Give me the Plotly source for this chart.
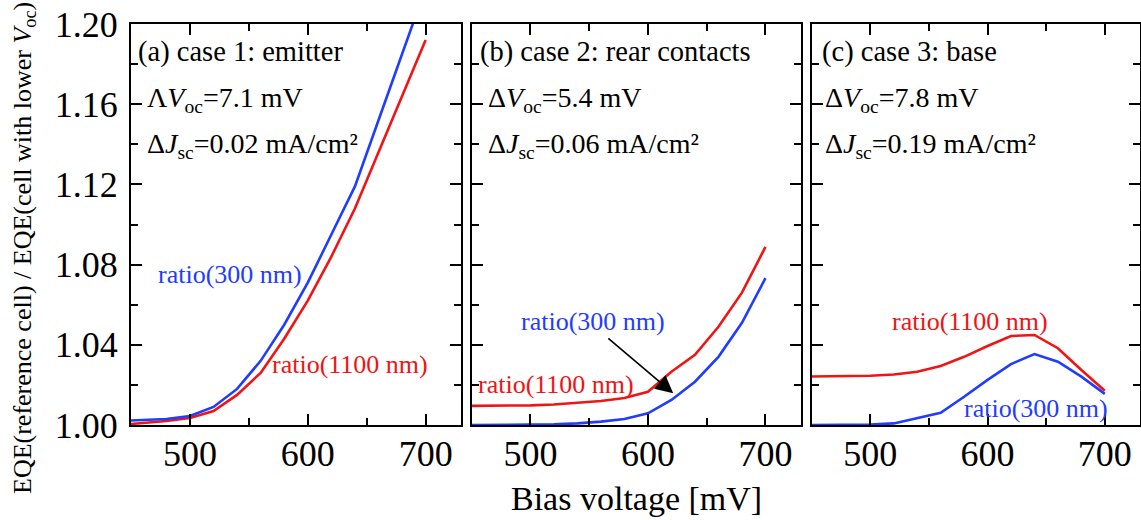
import plotly.graph_objects as go

# ---------------- data ----------------
bias_mv = [440, 460, 480, 500, 520, 540, 560, 580, 600, 620, 640, 660, 680, 700]

a_ratio300 = [1.002, 1.0025, 1.003, 1.0045, 1.009, 1.018, 1.032, 1.050, 1.071, 1.095, 1.119, 1.152, 1.185, 1.218]
a_ratio1100 = [1.000, 1.001, 1.002, 1.0035, 1.007, 1.015, 1.026, 1.043, 1.062, 1.084, 1.108, 1.136, 1.164, 1.192]

b_ratio300 = [1.000, 1.000, 1.000, 1.000, 1.0003, 1.0008, 1.0017, 1.003, 1.0058, 1.0125, 1.0216, 1.034, 1.051, 1.0732]
b_ratio1100 = [1.0095, 1.0095, 1.0096, 1.0098, 1.0102, 1.0110, 1.0120, 1.0135, 1.0166, 1.0266, 1.035, 1.049, 1.066, 1.0888]

c_ratio300 = [1.000, 1.000, 1.000, 1.0002, 1.0008, 1.0033, 1.0061, 1.0141, 1.0225, 1.0304, 1.0354, 1.0316, 1.0241, 1.0155]
c_ratio1100 = [1.0241, 1.0242, 1.0243, 1.0246, 1.0252, 1.0266, 1.0294, 1.034, 1.0394, 1.0444, 1.0449, 1.0383, 1.0274, 1.0171]

panel_titles = ["(a) case 1: emitter", "(b) case 2: rear contacts", "(c) case 3: base"]
dvoc_labels = ["\u039b<i>V</i><sub>oc</sub>=7.1 mV", "\u0394<i>V</i><sub>oc</sub>=5.4 mV", "\u0394<i>V</i><sub>oc</sub>=7.8 mV"]
djsc_labels = ["\u0394<i>J</i><sub>sc</sub>=0.02 mA/cm\u00b2", "\u0394<i>J</i><sub>sc</sub>=0.06 mA/cm\u00b2", "\u0394<i>J</i><sub>sc</sub>=0.19 mA/cm\u00b2"]

x_range = [450, 730]
y_range = [1.0, 1.2]

BLUE = "#1f3cff"
RED = "#f01414"
FONT = "Liberation Serif"

W, H = 1141, 520
ML, MR, MT, MB = 131, 1, 24, 95
PW = W - ML - MR
PH = H - MT - MB

# panel pixel extents
panels_px = [(131, 461), (471.7, 800.7), (811.7, 1140)]


def px_x(p):
    return (p - ML) / PW


def px_y(p):
    return (H - MB - p) / PH


fig = go.Figure()

series = [(a_ratio300, a_ratio1100), (b_ratio300, b_ratio1100), (c_ratio300, c_ratio1100)]
for i, (s300, s1100) in enumerate(series):
    xa = "x" if i == 0 else f"x{i+1}"
    ya = "y" if i == 0 else f"y{i+1}"
    fig.add_trace(go.Scatter(x=bias_mv, y=s1100, mode="lines", line=dict(color=RED, width=2.6),
                             xaxis=xa, yaxis=ya, showlegend=False, hoverinfo="skip"))
    fig.add_trace(go.Scatter(x=bias_mv, y=s300, mode="lines", line=dict(color=BLUE, width=2.6),
                             xaxis=xa, yaxis=ya, showlegend=False, hoverinfo="skip"))

axis_common = dict(showline=True, linecolor="black", linewidth=2, mirror="ticks",
                   ticks="inside", ticklen=11, tickwidth=2, tickcolor="black",
                   showgrid=False, zeroline=False, automargin=False,
                   tickfont=dict(family=FONT, size=36, color="black"))

layout = dict(width=W, height=H, margin=dict(l=ML, r=MR, t=MT, b=MB, autoexpand=False),
              plot_bgcolor="white", paper_bgcolor="white", showlegend=False,
              font=dict(family=FONT, color="black"))

for i, (l, r) in enumerate(panels_px):
    xk = "xaxis" if i == 0 else f"xaxis{i+1}"
    yk = "yaxis" if i == 0 else f"yaxis{i+1}"
    xa = "x" if i == 0 else f"x{i+1}"
    ya = "y" if i == 0 else f"y{i+1}"
    layout[xk] = dict(axis_common, domain=[px_x(l), px_x(r)], range=x_range, anchor=ya,
                      tick0=0, dtick=100, ticklabelstandoff=-4,
                      minor=dict(dtick=50, ticks="inside", ticklen=7, tickwidth=2, tickcolor="black"))
    layout[yk] = dict(axis_common, domain=[0, 1], range=y_range, anchor=xa,
                      tick0=1.0, dtick=0.04, tickformat=".2f", showticklabels=(i == 0),
                      ticklabelstandoff=4,
                      minor=dict(dtick=0.02, ticks="inside", ticklen=7, tickwidth=2, tickcolor="black"))

fig.update_layout(**layout)

annotations = []
# headings
head_px = [(136, 145), (478, 486), (820, 823)]
for i in range(3):
    hx, sx = head_px[i]
    annotations.append(dict(xref="paper", yref="paper", x=px_x(hx), y=px_y(52), xanchor="left", yanchor="middle",
                            text=panel_titles[i], showarrow=False, font=dict(family=FONT, size=28.5, color="black")))
    annotations.append(dict(xref="paper", yref="paper", x=px_x(sx), y=px_y(99), xanchor="left", yanchor="middle",
                            text=dvoc_labels[i], showarrow=False, font=dict(family=FONT, size=28, color="black")))
    annotations.append(dict(xref="paper", yref="paper", x=px_x(sx), y=px_y(145), xanchor="left", yanchor="middle",
                            text=djsc_labels[i], showarrow=False, font=dict(family=FONT, size=28, color="black")))

annotations += [
    dict(xref="x", yref="y", x=534, y=1.075, text="ratio(300 nm)", showarrow=False,
         font=dict(family=FONT, size=26, color=BLUE)),
    dict(xref="x", yref="y", x=636, y=1.030, text="ratio(1100 nm)", showarrow=False,
         font=dict(family=FONT, size=26, color=RED)),
    dict(xref="x2", yref="y2", x=553, y=1.0516, text="ratio(300 nm)", showarrow=False,
         font=dict(family=FONT, size=26, color=BLUE)),
    dict(xref="x2", yref="y2", x=522, y=1.020, text="ratio(1100 nm)", showarrow=False,
         font=dict(family=FONT, size=26, color=RED)),
    dict(xref="x3", yref="y3", x=585, y=1.0516, text="ratio(1100 nm)", showarrow=False,
         font=dict(family=FONT, size=26, color=RED)),
    dict(xref="x3", yref="y3", x=641, y=1.0083, text="ratio(300 nm)", showarrow=False,
         font=dict(family=FONT, size=26, color=BLUE)),
    # arrow in panel b
    dict(xref="x2", yref="y2", axref="x2", ayref="y2", x=621.5, y=1.0158, ax=565, ay=1.0438,
         text="", showarrow=True, arrowhead=2, arrowsize=2.2, arrowwidth=1.6, arrowcolor="black", standoff=0),
    # axis titles
    dict(xref="paper", yref="paper", x=px_x(636), y=px_y(498), xanchor="center", yanchor="middle",
         text="Bias voltage [mV]", showarrow=False, font=dict(family=FONT, size=34, color="black")),
    dict(xref="paper", yref="paper", x=px_x(24), y=px_y(248), xanchor="center", yanchor="middle", textangle=-90,
         text="EQE(reference cell) / EQE(cell with lower <i>V</i><sub>oc</sub>)", showarrow=False,
         font=dict(family=FONT, size=26, color="black")),
]
fig.update_layout(annotations=annotations)

fig.write_html("out.html", config={"displayModeBar": False},
               post_script="document.body.style.margin='0';document.body.style.padding='0';")
